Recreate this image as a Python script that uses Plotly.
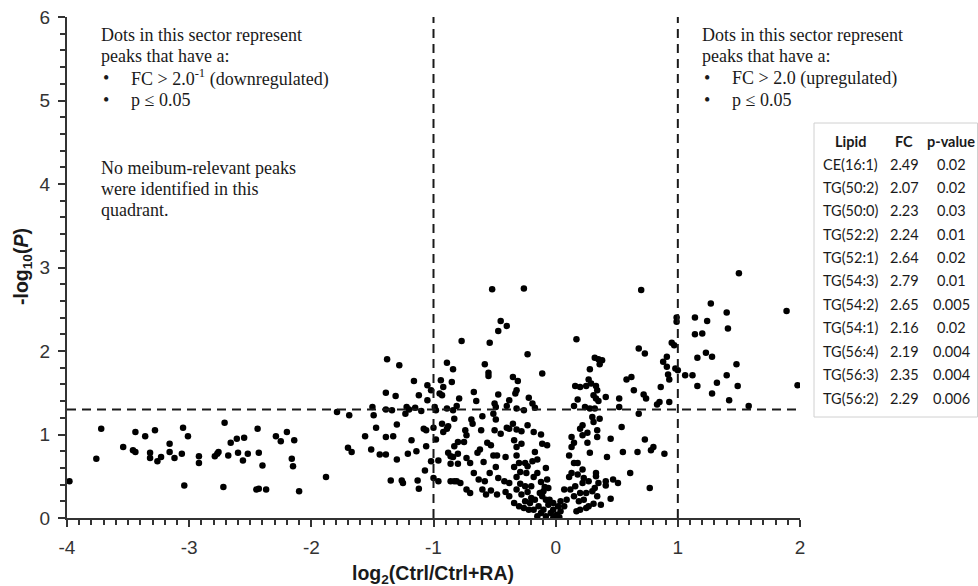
import plotly.graph_objects as go

# ---------------- data ----------------
log2_fc = [
    # far left sector
    -3.98, -3.76, -3.72, -3.54, -3.46, -3.44, -3.44, -3.36, -3.32, -3.32, -3.28, -3.26, -3.23, -3.16, -3.16,
    -3.12, -3.06, -3.05, -3.04, -3.01, -2.92, -2.92, -2.79, -2.77, -2.76, -2.72, -2.71, -2.68, -2.66, -2.61,
    -2.60, -2.56, -2.55, -2.52, -2.44, -2.43, -2.45, -2.43, -2.40, -2.37, -2.29, -2.25, -2.20, -2.16, -2.15,
    -2.14, -2.10, -1.88, -1.79, -1.70, -1.67, -1.69, -1.56, -1.50, -1.49, -1.47, -1.51, -1.44, -1.39, -1.38,
    -1.39, -1.39, -1.34, -1.39, -1.33, -1.35, -1.31, -1.30, -1.30, -1.28,
    # around -1
    -0.89, -0.84, -1.16, -1.05, -1.02, -0.94, -0.92, -0.95, -0.93, -0.85, -1.12, -1.05, -1.22, -1.20, -1.23,
    -1.15, -1.10, -0.99, -0.98, -0.89, -0.84, -0.83, -1.06, -1.08, -1.00, -0.93, -0.92, -0.89, -0.88, -1.18,
    -0.98, -1.06, -1.21, -1.14, -1.02, -0.96, -0.88, -0.86, -0.84, -0.86, -1.07, -1.00, -0.96, -1.26, -1.25,
    -1.13, -1.12, -0.86, -0.83,
    # centre-left
    -0.45, -0.40, -0.47, -0.77, -0.54, -0.23, 0.17, -0.58, -0.55, -0.55, -0.11, -0.35, -0.31, -0.32, -0.33,
    -0.47, -0.67, -0.65, -0.79, -0.38, -0.22, -0.19, -0.50, -0.60, -0.81, -0.49, -0.40, -0.32, -0.26, -0.17,
    0.15, -0.51, -0.49, -0.69, -0.68, -0.61, -0.74, -0.73, -0.40, -0.38, -0.35, -0.32, -0.28, -0.23, -0.18,
    -0.12, -0.07, -0.45, -0.50, -0.80, -0.75, -0.56, -0.53, -0.34, -0.32, -0.28, -0.11, -0.83, -0.62, -0.64,
    -0.80, -0.80, -0.73, -0.70, -0.59, -0.51, -0.48, -0.41, -0.49, -0.32, -0.30, -0.25, -0.23, -0.19, -0.17,
    -0.15, -0.08, -0.67, -0.54, -0.81, -0.78, -0.63, -0.58, -0.47, -0.42, -0.38, -0.32, -0.29, -0.24, -0.18,
    -0.12, -0.09, -0.06, -0.73, -0.70, -0.60, -0.57, -0.53, -0.48, -0.41, -0.38, -0.32, -0.28, -0.23, -0.34,
    -0.30, -0.25, -0.21, -0.17, -0.14, -0.11, -0.10, -0.06, -0.04, -0.02, 0.01, 0.04, 0.07, 0.09, 0.12,
    0.15, 0.07, 0.11, 0.13, 0.11, 0.13, 0.13, 0.15, 0.15, 0.16,
    -0.18, -0.12, -0.08, -0.02, 0.00, 0.03, -0.22, -0.15, -0.26, -0.05, -0.02, 0.02, 0.04, -0.20, -0.13,
    -0.10, -0.08, -0.25, -0.20, -0.07, -0.15, -0.29, -0.34,
    -0.52, -0.26, 0.70,
    # centre-right
    0.99, 0.99, 1.14, 1.14, 1.16, 0.68, 0.73, 0.95, 0.97, 0.91, 0.88, 0.91, 0.92, 0.93, 0.98,
    1.00, 1.06, 1.12, 1.16, 0.86, 0.58, 0.62, 0.64, 0.72, 0.74, 0.83, 0.85, 0.93, 0.52, 0.52,
    0.41, 0.68, 0.32, 0.35, 0.38, 0.36, 0.28, 0.27, 0.29, 0.25, 0.20, 0.33, 0.34, 0.31, 0.33,
    0.35, 0.18, 0.24, 0.28, 0.32, 0.30, 0.36, 0.31, 0.54, 0.22, 0.20, 0.26, 0.34, 0.22, 0.34,
    0.45, 0.73, 0.80, 0.78, 0.26, 0.28, 0.55, 0.67, 0.89, 0.42, 0.18, 0.22, 0.33, 0.33, 0.61,
    0.18, 0.23, 0.27, 0.22, 0.35, 0.41, 0.41, 0.47, 0.51, 0.32, 0.16, 0.77, 0.20, 0.25, 0.30,
    0.34, 0.45, 0.19, 0.23, 0.27, 0.31, 0.37, 0.20, 0.17, 0.25,
    # upregulated sector
    1.50, 1.27, 1.40, 1.89, 1.24, 1.20, 1.41, 1.23, 1.28, 1.48, 1.32, 1.28, 1.40, 1.49, 1.42,
    1.58, 1.98,
]

neg_log10_p = [
    0.44, 0.71, 1.07, 0.85, 0.81, 0.79, 1.03, 0.98, 0.78, 0.72, 1.05, 0.68, 0.73, 0.89, 0.79,
    0.72, 0.77, 1.08, 0.39, 0.98, 0.66, 0.74, 0.74, 0.77, 0.79, 0.37, 1.14, 0.75, 0.90, 0.95,
    0.78, 0.69, 0.96, 0.77, 1.07, 0.78, 0.34, 0.35, 0.63, 0.34, 0.98, 0.92, 1.03, 0.71, 0.62,
    0.93, 0.32, 0.49, 1.27, 0.84, 0.79, 1.23, 0.98, 1.33, 1.23, 1.08, 0.82, 0.76, 0.76, 1.90,
    1.50, 1.30, 1.29, 0.97, 0.98, 0.45, 1.46, 1.12, 0.70, 1.83,
    1.86, 1.78, 1.64, 1.59, 1.53, 1.65, 1.57, 1.49, 1.47, 1.63, 1.47, 1.41, 1.33, 1.30, 1.25,
    1.32, 1.28, 1.33, 1.29, 1.31, 1.29, 1.19, 1.05, 1.07, 1.08, 1.13, 1.03, 1.07, 1.10, 0.93,
    0.94, 0.86, 0.77, 0.80, 0.68, 0.69, 0.78, 0.74, 0.73, 0.65, 0.57, 0.48, 0.44, 0.45, 0.42,
    0.45, 0.35, 0.44, 0.44,
    2.36, 2.30, 2.24, 2.12, 2.10, 1.96, 2.14, 1.84, 1.74, 1.70, 1.73, 1.69, 1.64, 1.53, 1.49,
    1.48, 1.51, 1.40, 1.43, 1.41, 1.44, 1.37, 1.37, 1.22, 1.34, 1.33, 1.34, 1.31, 1.29, 1.32,
    1.34, 1.25, 1.18, 1.18, 1.13, 1.05, 1.05, 0.99, 1.08, 1.07, 1.13, 1.06, 1.04, 1.11, 1.03,
    1.00, 0.87, 1.01, 1.05, 0.91, 0.91, 0.90, 0.87, 0.93, 0.85, 0.89, 0.89, 0.86, 0.82, 0.78,
    0.77, 0.65, 0.72, 0.66, 0.67, 0.75, 0.75, 0.73, 0.61, 0.75, 0.66, 0.66, 0.62, 0.68, 0.79,
    0.70, 0.60, 0.54, 0.54, 0.44, 0.42, 0.46, 0.44, 0.48, 0.44, 0.42, 0.49, 0.41, 0.54, 0.49,
    0.43, 0.37, 0.36, 0.34, 0.30, 0.34, 0.28, 0.33, 0.28, 0.31, 0.26, 0.34, 0.28, 0.31, 0.18,
    0.14, 0.20, 0.18, 0.22, 0.14, 0.26, 0.10, 0.16, 0.06, 0.10, 0.04, 0.08, 0.14, 0.22, 0.34,
    0.26, 0.34, 0.49, 0.54, 0.75, 0.85, 0.97, 0.90, 0.66, 1.58,
    0.10, 0.06, 0.02, 0.00, 0.02, 0.01, 0.10, 0.02, 0.12, 0.22, 0.18, 0.14, 0.20, 0.24, 0.30,
    0.32, 0.22, 0.38, 0.38, 0.46, 0.54, 0.55, 0.61,
    2.74, 2.75, 2.73,
    2.40, 2.35, 2.40, 2.20, 1.92, 2.03, 1.97, 2.10, 2.07, 1.93, 1.87, 1.81, 1.72, 1.66, 1.79,
    1.77, 1.71, 1.71, 1.58, 1.57, 1.66, 1.69, 1.53, 1.48, 1.43, 1.36, 1.39, 1.39, 1.43, 1.33,
    1.45, 1.25, 1.92, 1.90, 1.89, 1.84, 1.78, 1.66, 1.61, 1.58, 1.57, 1.58, 1.53, 1.47, 1.43,
    1.40, 1.42, 1.33, 1.31, 1.31, 1.21, 1.19, 1.15, 1.09, 1.11, 1.07, 1.02, 1.05, 0.99, 0.97,
    0.95, 0.94, 0.85, 0.81, 0.90, 0.78, 0.79, 0.79, 0.77, 0.73, 0.66, 0.58, 0.54, 0.50, 0.54,
    0.52, 0.48, 0.44, 0.42, 0.42, 0.44, 0.39, 0.46, 0.42, 0.36, 0.38, 0.36, 0.30, 0.30, 0.32,
    0.26, 0.23, 0.20, 0.22, 0.14, 0.17, 0.16, 0.10, 0.08, 0.12,
    2.93, 2.57, 2.46, 2.48, 2.36, 2.21, 2.27, 1.98, 1.93, 1.84, 1.62, 1.49, 1.71, 1.58, 1.41,
    1.34, 1.59,
]

fc_cutoffs = [-1, 1]
p_cutoff = 1.3

x_ticks = [-4, -3, -2, -1, 0, 1, 2]
y_ticks = [0, 1, 2, 3, 4, 5, 6]

table_header = ["Lipid", "FC", "p-value"]
lipids = ["CE(16:1)", "TG(50:2)", "TG(50:0)", "TG(52:2)", "TG(52:1)", "TG(54:3)",
          "TG(54:2)", "TG(54:1)", "TG(56:4)", "TG(56:3)", "TG(56:2)"]
fold_changes = ["2.49", "2.07", "2.23", "2.24", "2.64", "2.79", "2.65", "2.16", "2.19", "2.35", "2.29"]
p_values = ["0.02", "0.02", "0.03", "0.01", "0.02", "0.01", "0.005", "0.02", "0.004", "0.004", "0.006"]

left_text = ["Dots in this sector represent", "peaks that have a:"]
left_bullets = ["FC > 2.0<sup>-1</sup> (downregulated)", "p \u2264 0.05"]
left_note = ["No meibum-relevant peaks", "were identified in this", "quadrant."]
right_text = ["Dots in this sector represent", "peaks that have a:"]
right_bullets = ["FC > 2.0 (upregulated)", "p \u2264 0.05"]

x_title = "<b>log<sub>2</sub>(Ctrl/Ctrl+RA)</b>"
y_title = "<b>-log<sub>10</sub>(<i>P</i>)</b>"

# ---------------- layout geometry ----------------
W, H = 978, 586
L, R, T, B = 67, 800, 17, 518


def px(x):
    return (x - L) / (R - L)


def py(y):
    return (B - y) / (B - T)


fig = go.Figure()
fig.add_trace(go.Scatter(
    x=log2_fc, y=neg_log10_p, mode="markers",
    marker=dict(color="black", size=6.5), showlegend=False, hoverinfo="x+y"))

dash = "9px,6px"
for xc in fc_cutoffs:
    fig.add_shape(type="line", xref="x", yref="y", x0=xc, x1=xc, y0=0, y1=6,
                  line=dict(color="#1a1a1a", width=2, dash=dash))
fig.add_shape(type="line", xref="x", yref="y", x0=-4, x1=2, y0=p_cutoff, y1=p_cutoff,
              line=dict(color="#1a1a1a", width=2, dash=dash))

serif = dict(family="Liberation Serif", size=18, color="#1a1a1a")
ann = []


def add_text(x, y, text, font, xanchor="left", angle=0):
    ann.append(dict(x=px(x), y=py(y), xref="paper", yref="paper", text=text,
                    showarrow=False, xanchor=xanchor, yanchor="middle", font=font,
                    textangle=angle))


# left sector text
for i, t in enumerate(left_text):
    add_text(99, 35 + 21.5 * i, t, serif)
for i, t in enumerate(left_bullets):
    add_text(101, 78 + 21.5 * i, "\u2022", serif)
    add_text(129, 78 + 21.5 * i, t, serif)
for i, t in enumerate(left_note):
    add_text(99, 168 + 21 * i, t, serif)

# right sector text
for i, t in enumerate(right_text):
    add_text(700, 35 + 21.5 * i, t, serif)
for i, t in enumerate(right_bullets):
    add_text(702, 78 + 21.5 * i, "\u2022", serif)
    add_text(730, 78 + 21.5 * i, t, serif)

# table
fig.add_shape(type="rect", xref="paper", yref="paper", x0=px(814), x1=px(977.5), y0=py(417), y1=py(123),
              line=dict(color="#d0d0d0", width=1), fillcolor="white", layer="below")
tfont = dict(family="Lato", size=14.5, color="#1a1a1a")
col_x = [850, 904, 951]
for c, h in zip(col_x, table_header):
    add_text(c, 141, "<b>" + h + "</b>", tfont, xanchor="center")
for i in range(len(lipids)):
    yy = 164 + 23.4 * i
    add_text(col_x[0], yy, lipids[i], tfont, xanchor="center")
    add_text(col_x[1], yy, fold_changes[i], tfont, xanchor="center")
    add_text(col_x[2], yy, p_values[i], tfont, xanchor="center")

# axis titles
title_font = dict(family="Liberation Sans", size=19.5, color="#1a1a1a")
add_text(433, 574, x_title, title_font, xanchor="center")
add_text(22, 267, y_title, title_font, xanchor="center", angle=-90)

axis_font = dict(family="Liberation Sans", size=19, color="#333333")

fig.update_layout(
    width=W, height=H,
    margin=dict(l=L, r=W - R, t=T, b=H - B),
    paper_bgcolor="white", plot_bgcolor="white",
    annotations=ann,
    xaxis=dict(range=[-4, 2], tickvals=x_ticks, ticktext=[str(v) for v in x_ticks],
               showgrid=False, zeroline=False, showline=True, linecolor="#333333", linewidth=2,
               ticks="outside", ticklen=7, tickwidth=2, tickcolor="#333333",
               minor=dict(dtick=0.1, ticks="outside", ticklen=5, tickwidth=1.5, tickcolor="#333333", showgrid=False),
               tickfont=axis_font, ticklabelstandoff=4, automargin=False, ticklabeloverflow="allow"),
    yaxis=dict(range=[0, 6], tickvals=y_ticks, ticktext=[str(v) for v in y_ticks],
               showgrid=False, zeroline=False, showline=True, linecolor="#333333", linewidth=2,
               ticks="outside", ticklen=7, tickwidth=2, tickcolor="#333333",
               minor=dict(dtick=0.2, ticks="outside", ticklen=5, tickwidth=1.5, tickcolor="#333333", showgrid=False),
               tickfont=axis_font, ticklabelstandoff=4, automargin=False, ticklabeloverflow="allow"),
)

fig.write_html("out.html", config={"displayModeBar": False},
               post_script="document.body.style.margin='0px';document.body.style.overflow='hidden';")
